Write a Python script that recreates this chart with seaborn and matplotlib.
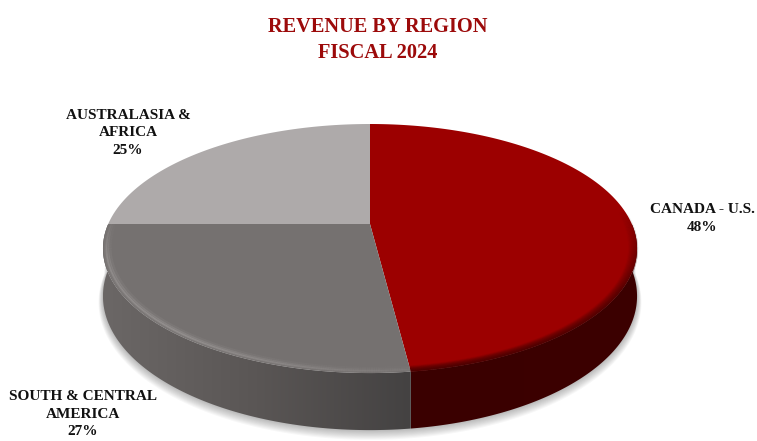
import numpy as np
import matplotlib
matplotlib.use('Agg')
import matplotlib.pyplot as plt
import seaborn as sns
from matplotlib.collections import LineCollection
from matplotlib.colors import LinearSegmentedColormap, to_rgb
from matplotlib.patches import Polygon
from matplotlib.path import Path
from matplotlib.transforms import Affine2D, Transform

# chart values
regions = ['CANADA - U.S.', 'SOUTH & CENTRAL\nAMERICA', 'AUSTRALASIA &\nAFRICA']
shares = [48, 27, 25]
top_colors = ['#9c0000', '#757170', '#aeaaaa']
title_lines = 'REVENUE BY REGION\nFISCAL 2024'

# where the labels sit (pixels)
label_pos = [(702, 218.5), (83, 414), (128, 133)]

# perspective of the disc
CX, CY = 370, 224
SX, SY, K = 261.8, 119.7, 0.197
DROP = 45.8


def project(x, y, drop=0.0):
    w = 1 + K * y
    return CX + SX * x / w, CY - SY * y / w + drop / w


class Perspective(Transform):
    input_dims = output_dims = 2

    def transform_non_affine(self, values):
        px, py = project(values[:, 0], values[:, 1])
        return np.column_stack([px, py])

    def transform_path_non_affine(self, path):
        # flatten the wedge curves first so the arcs stay smooth
        polys = path.transformed(Affine2D().scale(1000)).to_polygons(closed_only=False)
        return Path(self.transform_non_affine(np.vstack(polys) / 1000))


def ring(deg, r=1.0, drop=0.0):
    t = np.radians(deg)
    return project(r * np.cos(t), r * np.sin(t), drop)


def wall(ax, deg1, deg2, colors, zorder=2):
    # side of the disc between two angles, filled with a left-right gradient
    deg = np.linspace(deg1, deg2, 200)
    x1, y1 = ring(deg)
    x2, y2 = ring(deg[::-1], drop=DROP)
    poly = Polygon(np.column_stack([np.r_[x1, x2], np.r_[y1, y2]]), transform=ax.transData,
                   fc='none', ec='none')
    ax.add_patch(poly)
    cmap = LinearSegmentedColormap.from_list('wall', colors)
    img = ax.imshow(np.linspace(0, 1, 256)[None, :], cmap=cmap, aspect='auto', zorder=zorder,
                    extent=(min(x1.min(), x2.min()), max(x1.max(), x2.max()), 441, 0))
    img.set_clip_path(poly)


def rim(ax, deg1, deg2, r, color, alpha_deg, alpha_val, lw):
    # one stroke along the edge of the top face, alpha changes along the arc
    deg = np.linspace(deg1, deg2, 240)
    x, y = ring(deg, r)
    pts = np.column_stack([x, y])
    segs = np.stack([pts[:-1], pts[1:]], axis=1)
    alpha = np.interp(deg[:-1], alpha_deg, alpha_val)
    rgba = np.column_stack([np.tile(to_rgb(color), (len(alpha), 1)), alpha])
    ax.add_collection(LineCollection(segs, colors=rgba, linewidths=lw, zorder=5, capstyle='butt'))


sns.set_theme(style='white')
plt.rcParams['font.family'] = ['Liberation Serif', 'DejaVu Serif']

fig = plt.figure(figsize=(7.57, 4.41), dpi=100)
ax = fig.add_axes([0, 0, 1, 1])

wedges, _ = ax.pie(shares, colors=top_colors, startangle=90, counterclock=False,
                   wedgeprops={'linewidth': 0, 'zorder': 4})
persp = Perspective()
for w in wedges:
    w.set_transform(persp + ax.transData)
    w.set_clip_on(False)

ax.set_aspect('auto')
ax.set_xlim(0, 757)
ax.set_ylim(441, 0)
ax.axis('off')

# wedge angles come from the pie itself (theta runs counterclockwise)
red, dark, light = wedges
split = red.theta1  # red / dark grey edge at the front

# soft shadow under the disc
deg = np.linspace(-180, 0, 200)
for grow in np.linspace(0.04, 0.0, 10):
    x1, y1 = ring(deg, 1 + grow * 0.4, drop=DROP + 130 * grow)
    x0, y0 = ring(deg[::-1], 1.0, drop=0)
    ax.fill(np.r_[x1, x0], np.r_[y1, y0], color='#000000', alpha=0.03, lw=0, zorder=1)

wall(ax, -180, split, ['#6b6766', '#5a5655', '#444242'])
wall(ax, split, 0, ['#3a0000', '#3c0000'])

# soft dark bevel along the red edge
for r, a in zip(np.linspace(0.972, 1.0, 8), np.linspace(0.08, 0.5, 8)):
    rim(ax, split, 6, r, '#3c0000', [split, -30, 6], [a, a, 0.0], 1.6)

# light line along the dark grey edge
for r, a, lw in [(0.975, 0.10, 2.5), (0.982, 0.22, 1.8), (0.988, 0.40, 1.2), (0.994, 0.12, 1.2)]:
    rim(ax, -182, split, r, '#b5b1b0', [-182, -165, -130, -100, split], [0.1 * a, a, a, 0.5 * a, 0.2 * a], lw)

# labels
for name, share, (lx, ly) in zip(regions, shares, label_pos):
    ax.text(lx, ly, f'{name}\n{share}%', ha='center', va='center', fontsize=11,
            fontweight='bold', color='#111111', linespacing=1.43, zorder=6)

ax.text(378, 40, title_lines, ha='center', va='center', fontsize=14.7, fontweight='bold',
        color='#9c0a0a', linespacing=1.45, zorder=6)

fig.savefig('out.png', dpi=100)
